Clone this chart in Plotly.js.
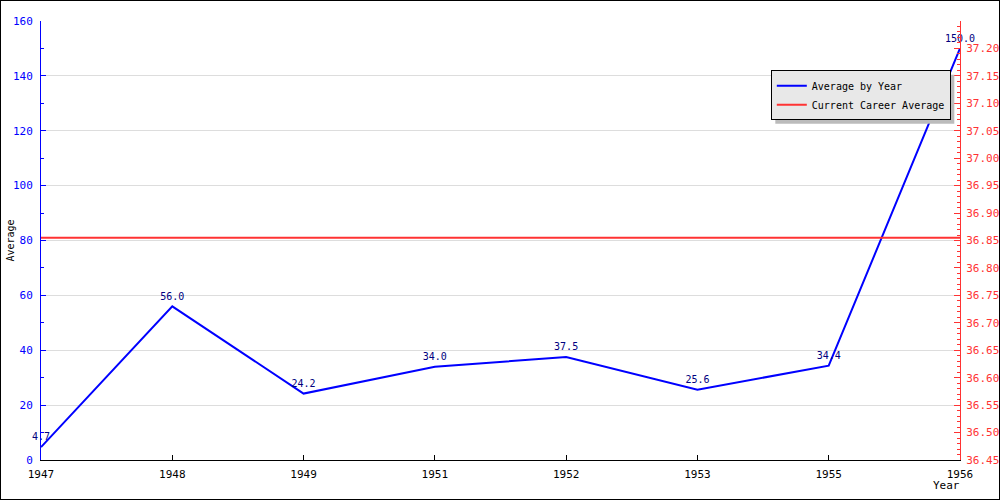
<!DOCTYPE html>
<html>
<head>
<meta charset="utf-8">
<script src="https://cdn.plot.ly/plotly-3.0.1.min.js"></script>
<style>
html,body{margin:0;padding:0;background:#fff;}
#chart{width:998px;height:498px;border:1px solid #000;}
</style>
</head>
<body>
<div id="chart"></div>
<script>
const years = ["1947","1948","1949","1951","1952","1953","1955","1956"];
const averageByYear = [4.7, 56.0, 24.2, 34.0, 37.5, 25.6, 34.4, 150.0];
const careerAverage = [36.855, 36.855, 36.855, 36.855, 36.855, 36.855, 36.855, 36.855];
const rightTickVals = [36.45, 36.50, 36.55, 36.60, 36.65, 36.70, 36.75, 36.80, 36.85,
                       36.90, 36.95, 37.00, 37.05, 37.10, 37.15, 37.20];

const FONT = "DejaVu Sans Mono, monospace";

const traces = [
  {
    x: years, y: averageByYear, name: "Average by Year",
    type: "scatter", mode: "lines+markers+text",
    line: {color: "#0000ff", width: 2},
    marker: {size: 5, color: "rgba(0,0,255,0)"},
    text: averageByYear.map(v => v.toFixed(1)),
    textposition: "top center",
    textfont: {family: FONT, size: 10, color: "#000080"},
    cliponaxis: false,
    hoverinfo: "x+y"
  },
  {
    x: years, y: careerAverage, name: "Current Career Average",
    type: "scatter", mode: "lines", yaxis: "y2",
    line: {color: "#ff3333", width: 2},
    hoverinfo: "x+y"
  }
];

const layout = {
  width: 998, height: 498,
  margin: {l: 40, r: 39, t: 20, b: 39},
  paper_bgcolor: "#ffffff", plot_bgcolor: "#ffffff",
  font: {family: FONT, size: 10, color: "#000"},
  showlegend: true,
  legend: {
    x: 0.990, xanchor: "right", y: 0.888, yanchor: "top",
    bgcolor: "#e8e8e8", bordercolor: "#000", borderwidth: 1,
    font: {family: FONT, size: 10, color: "#000"},
    itemwidth: 30, tracegroupgap: 0
  },
  xaxis: {
    type: "category", range: [0, 7],
    showline: true, linecolor: "#000", linewidth: 1,
    ticks: "inside", ticklen: 5, tickcolor: "#000",
    ticklabelstandoff: 4,
    showgrid: false, zeroline: false,
    tickfont: {family: FONT, size: 11, color: "#000"}
  },
  yaxis: {
    range: [0, 160], dtick: 20, tick0: 0,
    showline: true, linecolor: "#0000ff", linewidth: 1,
    ticks: "inside", ticklen: 5, tickcolor: "#0000ff",
    ticklabelstandoff: 5,
    minor: {dtick: 10, ticks: "inside", ticklen: 3, tickcolor: "#0000ff", showgrid: false},
    showgrid: true, gridcolor: "#dddddd", gridwidth: 1,
    zeroline: false,
    tickfont: {family: FONT, size: 11, color: "#0000ff"}
  },
  yaxis2: {
    overlaying: "y", side: "right",
    range: [36.45, 37.25], tickmode: "array", tickvals: rightTickVals, tickformat: ".2f",
    showline: true, linecolor: "#ff3333", linewidth: 1,
    ticks: "inside", ticklen: 6, tickcolor: "#ff3333",
    ticklabelstandoff: 3,
    minor: {tickmode: "linear", tick0: 36.45, dtick: 0.01, ticks: "inside", ticklen: 3, tickcolor: "#ff3333", showgrid: false},
    showgrid: false, zeroline: false,
    tickfont: {family: FONT, size: 11, color: "#ff3333"}
  },
  annotations: [
    {text: "Average", xref: "paper", yref: "paper", x: -0.0337, y: 0.5,
     xanchor: "center", yanchor: "middle",
     textangle: -90, showarrow: false, font: {family: FONT, size: 10, color: "#000"}},
    {text: "Year", xref: "paper", yref: "paper", x: 0.985, y: -0.059,
     xanchor: "center", yanchor: "middle",
     showarrow: false, font: {family: FONT, size: 11, color: "#000"}}
  ]
};

Plotly.newPlot("chart", traces, layout, {displayModeBar: false, staticPlot: true}).then(gd => {
  const lg = gd.querySelector(".legend .bg");
  if (!lg) return;
  const r = lg.getBoundingClientRect();
  const host = gd.getBoundingClientRect();
  const fl = gd._fullLayout;
  const pw = fl._size.w, ph = fl._size.h, ml = fl._size.l, mt = fl._size.t;
  const px = v => (v - host.left - 1 - ml) / pw;
  const py = v => 1 - (v - host.top - 1 - mt) / ph;
  Plotly.relayout(gd, {shapes: [{
    type: "rect", xref: "paper", yref: "paper", layer: "above",
    x0: px(r.left + 4), x1: px(r.right + 4), y0: py(r.bottom + 4), y1: py(r.top + 4),
    fillcolor: "#bbbbbb", line: {width: 0}
  }]}).then(() => {
    const shp = gd.querySelector(".layer-above .shapelayer");
    const leg = gd.querySelector(".legend");
    if (shp && leg) leg.parentNode.insertBefore(shp, leg);
  });
});
</script>
</body>
</html>
